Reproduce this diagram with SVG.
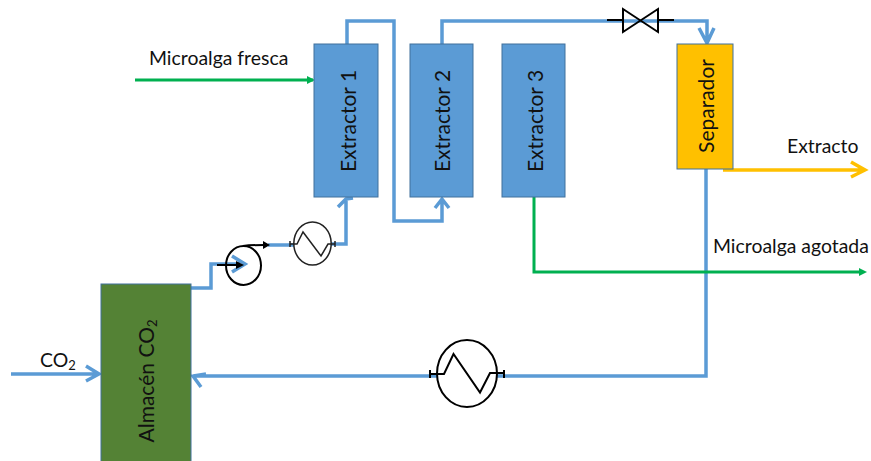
<svg xmlns="http://www.w3.org/2000/svg" width="871" height="461" viewBox="0 0 871 461">
<style>
text{font-family:"Lato","Liberation Sans",sans-serif;font-size:19.4px;fill:#111}
.v{font-size:21px;text-anchor:middle}
.box{stroke:#41719c;stroke-width:1}
.b{fill:#5b9bd5}
.p{fill:none;stroke:#5b9bd5;stroke-width:3.5}
.g{fill:none;stroke:#00b050;stroke-width:3}
.y{fill:none;stroke:#ffc000;stroke-width:3.5}
.k{fill:none;stroke:#000;stroke-width:2}
</style>
<rect width="871" height="461" fill="#fff"/>
<g id="connectors">
<path class="p" d="M191 288H211V264H240M232 256L245 264L232 272"/>
<path class="p" d="M268 245H331M331 244H346V199M338 207L346 199L353 198"/>
<path class="p" d="M347 44V21H394V221H442V199M435 208L442 199L449 208"/>
<path class="p" d="M442 44V21H707V42M699 28L707 43L714 28"/>
<path class="p" d="M706 169V376H193M206 374L193 376L201 387"/>
<path class="p" d="M11 374H99M86 366L99 374L86 381"/>
<path class="g" d="M135 80H313"/><path d="M307 76L315 80L307 84Z" fill="#00b050"/>
<path class="g" d="M534 197V272H860"/><path d="M859 268L867 272L859 276Z" fill="#00b050"/>
<path class="y" d="M723 170H864M851 162L865 170L851 177"/>
</g>
<g id="extractor1"><rect class="box b" x="314" y="44" width="64" height="153"/><text class="v" transform="translate(356 121) rotate(-90)">Extractor 1</text></g>
<g id="extractor2"><rect class="box b" x="410" y="44" width="63" height="153"/><text class="v" transform="translate(450 121) rotate(-90)">Extractor 2</text></g>
<g id="extractor3"><rect class="box b" x="502" y="44" width="63" height="153"/><text class="v" transform="translate(543 121) rotate(-90)">Extractor 3</text></g>
<g id="separador"><rect x="677" y="44" width="56" height="125" fill="#ffc000" stroke="#41719c"/><text class="v" transform="translate(714 106) rotate(-90)">Separador</text></g>
<g id="almacen"><rect x="101" y="284" width="90" height="178" fill="#548235" stroke="#41719c"/><text class="v" transform="translate(154 381) rotate(-90)">Almacén CO<tspan font-size="13" dy="3">2</tspan></text></g>
<g id="pump"><ellipse class="k" cx="243.5" cy="265.5" rx="17.5" ry="19.5"/><path class="k" d="M217 265H240M243 246C250 245 255 245 264 245"/><path d="M236 261L244 265L236 269ZM263 241L270 245L263 249Z"/></g>
<g id="hx-small"><ellipse cx="312.5" cy="243.5" rx="18.7" ry="21.5" fill="#fff" stroke="#222" stroke-width="1.5"/><path d="M290 244H297L303 232L321 256L328 244H335M290 241V247M335 241V247" fill="none" stroke="#222" stroke-width="1.5"/></g>
<g id="hx-large"><ellipse cx="467" cy="373.5" rx="30" ry="33.5" fill="#fff" stroke="#000" stroke-width="2"/><path class="k" d="M430 374H444L453.500 354L480 392.500L490 373H504M430 370V378M504 370V378"/></g>
<g id="valve"><path class="k" d="M607 20H623M658 20H674M623 9V32L658 9V32Z"/></g>
<text x="149" y="65">Microalga fresca</text>
<text x="787" y="153">Extracto</text>
<text x="713" y="253">Microalga agotada</text>
<text x="40" y="367">CO<tspan font-size="13" dy="3">2</tspan></text>
</svg>
